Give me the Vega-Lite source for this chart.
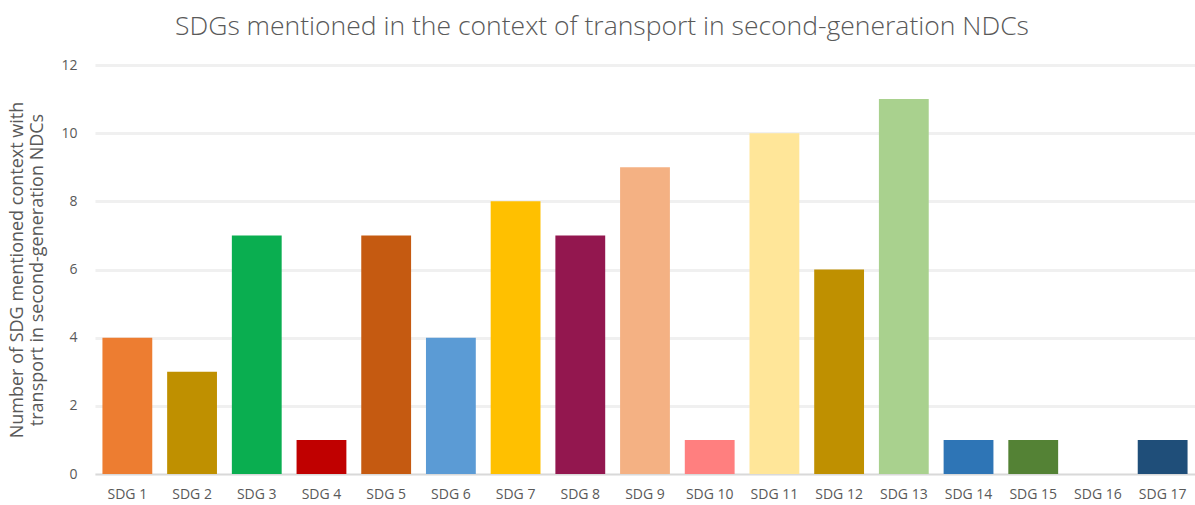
{
  "$schema": "https://vega.github.io/schema/vega-lite/v6.json",
  "width": 1195,
  "height": 505,
  "autosize": {"type": "fit", "contains": "padding"},
  "padding": {"left": 8, "right": 0, "top": 13, "bottom": 4},
  "background": "white",
  "config": {"view": {"stroke": null}, "font": "Open Sans"},
  "title": {
    "text": "SDGs mentioned in the context of transport in second-generation NDCs",
    "font": "Open Sans",
    "fontSize": 26.5,
    "fontWeight": 300,
    "color": "#595959",
    "anchor": "middle",
    "frame": "bounds",
    "offset": 18
  },
  "data": {
    "values": [
      {"sdg": "SDG 1", "n": 4, "c": "#ED7D31"},
      {"sdg": "SDG 2", "n": 3, "c": "#BF9000"},
      {"sdg": "SDG 3", "n": 7, "c": "#0AAE50"},
      {"sdg": "SDG 4", "n": 1, "c": "#C00000"},
      {"sdg": "SDG 5", "n": 7, "c": "#C55A11"},
      {"sdg": "SDG 6", "n": 4, "c": "#5B9BD5"},
      {"sdg": "SDG 7", "n": 8, "c": "#FFC000"},
      {"sdg": "SDG 8", "n": 7, "c": "#93174F"},
      {"sdg": "SDG 9", "n": 9, "c": "#F4B183"},
      {"sdg": "SDG 10", "n": 1, "c": "#FF7F7F"},
      {"sdg": "SDG 11", "n": 10, "c": "#FFE699"},
      {"sdg": "SDG 12", "n": 6, "c": "#BF9000"},
      {"sdg": "SDG 13", "n": 11, "c": "#A9D18E"},
      {"sdg": "SDG 14", "n": 1, "c": "#2E75B6"},
      {"sdg": "SDG 15", "n": 1, "c": "#548235"},
      {"sdg": "SDG 16", "n": 0, "c": "#FFFFFF"},
      {"sdg": "SDG 17", "n": 1, "c": "#1F4E79"}
    ]
  },
  "mark": {"type": "bar"},
  "encoding": {
    "x": {
      "field": "sdg",
      "type": "nominal",
      "sort": null,
      "scale": {"paddingInner": 0.23, "paddingOuter": 0.115},
      "axis": {
        "title": null,
        "labelAngle": 0,
        "labelFont": "Open Sans",
        "labelFontSize": 14,
        "labelColor": "#595959",
        "labelPadding": 13,
        "ticks": false,
        "domainColor": "#D9D9D9",
        "domainWidth": 1.5,
        "grid": false
      }
    },
    "y": {
      "field": "n",
      "type": "quantitative",
      "scale": {"domain": [0, 12]},
      "axis": {
        "title": ["Number of SDG mentioned context with", "transport in second-generation NDCs"],
        "titleFont": "Open Sans",
        "titleFontSize": 18,
        "titleFontWeight": "normal",
        "titleColor": "#595959",
        "titleAlign": "center",
        "titlePadding": 14,
        "values": [0, 2, 4, 6, 8, 10, 12],
        "labelFont": "Open Sans",
        "labelFontSize": 14,
        "labelColor": "#595959",
        "labelPadding": 18,
        "ticks": false,
        "domain": false,
        "gridColor": "#F0F0F0",
        "gridWidth": 3
      }
    },
    "color": {"field": "c", "type": "nominal", "scale": null, "legend": null}
  }
}
